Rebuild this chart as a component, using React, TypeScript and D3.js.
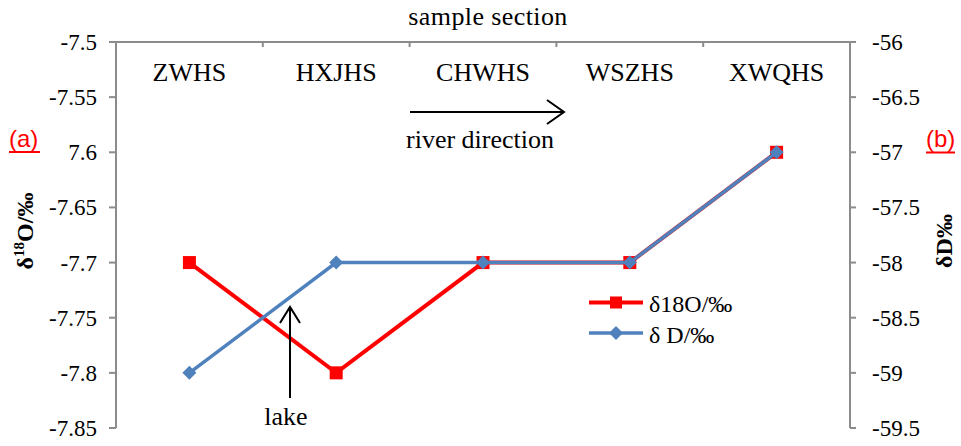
import React from "react";
import * as d3 from "d3";

const categories = ["ZWHS", "HXJHS", "CHWHS", "WSZHS", "XWQHS"];
const d18O = [-7.7, -7.8, -7.7, -7.7, -7.6];
const dD = [-59, -58, -58, -58, -57];
const leftTicks = [-7.5, -7.55, -7.6, -7.65, -7.7, -7.75, -7.8, -7.85];
const leftTickLabels = ["-7.5", "-7.55", "7.6", "-7.65", "-7.7", "-7.75", "-7.8", "-7.85"];
const rightTicks = [-56, -56.5, -57, -57.5, -58, -58.5, -59, -59.5];
const rightTickLabels = ["-56", "-56.5", "-57", "-57.5", "-58", "-58.5", "-59", "-59.5"];

const W = 961, H = 446;
const L = 116, R = 850, T = 42, B = 428;
const AX = "#8c8c8c";
const RED = "#ff0000";
const BLUE = "#4f81bd";
const SERIF = "Liberation Serif, DejaVu Serif, serif";
const SANS = "Liberation Sans, Arial, sans-serif";

export default function App() {
  const band = d3.scaleBand<string>().domain(categories).range([L, R]).paddingInner(0).paddingOuter(0);
  const x = (c: string) => (band(c) as number) + band.bandwidth() / 2;
  const yL = d3.scaleLinear().domain([-7.85, -7.5]).range([B, T]);
  const yR = d3.scaleLinear().domain([-59.5, -56]).range([B, T]);

  const redLine = d3.line<number>().x((_, i) => x(categories[i])).y((d) => yL(d))(d18O) as string;
  const blueLine = d3.line<number>().x((_, i) => x(categories[i])).y((d) => yR(d))(dD) as string;

  const bandEdges = [...categories.map((c) => band(c) as number), R];
  const sq = 13;
  const dm = 7;
  const diamond = (cx: number, cy: number, r: number) =>
    `M${cx},${cy - r}L${cx + r},${cy}L${cx},${cy + r}L${cx - r},${cy}Z`;

  return (
    <svg width={W} height={H} style={{ position: "absolute", left: 0, top: 0, background: "#fff" }}>
      <rect x={0} y={0} width={W} height={H} fill="#fff" />
      {/* top category axis */}
      <line x1={L} x2={R} y1={T} y2={T} stroke={AX} strokeWidth={2} />
      {bandEdges.map((e, i) => (
        <line key={i} x1={e} x2={e} y1={T} y2={T + 5} stroke={AX} strokeWidth={2} />
      ))}
      {categories.map((c) => (
        <text key={c} x={x(c)} y={81} textAnchor="middle" style={{ fontFamily: SERIF }} fontSize={26} fill="#000">
          {c}
        </text>
      ))}
      <text x={488} y={25} textAnchor="middle" style={{ fontFamily: SERIF }} fontSize={26} letterSpacing={0.4} fill="#000">
        sample section
      </text>

      {/* left axis */}
      <line x1={L} x2={L} y1={T} y2={B} stroke={AX} strokeWidth={2} />
      {leftTicks.map((t, i) => (
        <g key={t}>
          <line x1={L - 7} x2={L} y1={yL(t)} y2={yL(t)} stroke={AX} strokeWidth={2} />
          <text x={97} y={yL(t) + 8} textAnchor="end" style={{ fontFamily: SERIF }} fontSize={23} fill="#000">
            {leftTickLabels[i]}
          </text>
        </g>
      ))}
      {/* right axis */}
      <line x1={R} x2={R} y1={T} y2={B} stroke={AX} strokeWidth={2} />
      {rightTicks.map((t, i) => (
        <g key={t}>
          <line x1={R} x2={R + 6} y1={yR(t)} y2={yR(t)} stroke={AX} strokeWidth={2} />
          <text x={872} y={yR(t) + 8} textAnchor="start" style={{ fontFamily: SERIF }} fontSize={23} fill="#000">
            {rightTickLabels[i]}
          </text>
        </g>
      ))}

      {/* axis titles */}
      <text
        transform="translate(33,231) rotate(-90)"
        textAnchor="middle"
        style={{ fontFamily: SERIF }}
        fontSize={24}
        fontWeight="bold"
        fill="#000"
      >
        δ<tspan fontSize={15} dy={-9}>18</tspan>
        <tspan dy={9}>O/‰</tspan>
      </text>
      <text
        transform="translate(952,241) rotate(-90)"
        textAnchor="middle"
        style={{ fontFamily: SERIF }}
        fontSize={24}
        fontWeight="bold"
        fill="#000"
      >
        δD‰
      </text>

      {/* (a) (b) */}
      <text x={9} y={147} style={{ fontFamily: SANS }} fontSize={24} fill={RED}>(a)</text>
      <line x1={9} x2={40} y1={152} y2={152} stroke={RED} strokeWidth={2} />
      <text x={926} y={147} style={{ fontFamily: SANS }} fontSize={24} fill={RED}>(b)</text>
      <line x1={926} x2={955} y1={152.5} y2={152.5} stroke={RED} strokeWidth={2} />

      {/* river direction arrow */}
      <line x1={410} x2={564} y1={112} y2={112} stroke="#000" strokeWidth={2} />
      <path d="M547,100L564,112L547,124" fill="none" stroke="#000" strokeWidth={2} />
      <text x={480} y={148} textAnchor="middle" style={{ fontFamily: SERIF }} fontSize={26} fill="#000">
        river direction
      </text>

      {/* series */}
      <path d={redLine} fill="none" stroke={RED} strokeWidth={4} />
      {d18O.map((v, i) => (
        <rect key={i} x={x(categories[i]) - sq / 2} y={yL(v) - sq / 2} width={sq} height={sq} fill={RED} />
      ))}
      <path d={blueLine} fill="none" stroke={BLUE} strokeWidth={3.5} />
      {dD.map((v, i) => (
        <path key={i} d={diamond(x(categories[i]), yR(v), dm)} fill={BLUE} />
      ))}

      {/* lake arrow */}
      <line x1={290} x2={290} y1={398} y2={308} stroke="#000" strokeWidth={2} />
      <path d="M280,323L290,307L300,323" fill="none" stroke="#000" strokeWidth={2} />
      <text x={286} y={425} textAnchor="middle" style={{ fontFamily: SERIF }} fontSize={26} fill="#000">
        lake
      </text>

      {/* legend */}
      <line x1={589} x2={643} y1={302.5} y2={302.5} stroke={RED} strokeWidth={4} />
      <rect x={616 - 6} y={302.5 - 6} width={12} height={12} fill={RED} />
      <text x={649} y={312} style={{ fontFamily: SERIF }} fontSize={24} fill="#000">δ18O/‰</text>
      <line x1={589} x2={643} y1={333} y2={333} stroke={BLUE} strokeWidth={3.5} />
      <path d={diamond(616, 333, 7)} fill={BLUE} />
      <text x={649} y={343} style={{ fontFamily: SERIF }} fontSize={24} fill="#000">δ D/‰</text>
    </svg>
  );
}
